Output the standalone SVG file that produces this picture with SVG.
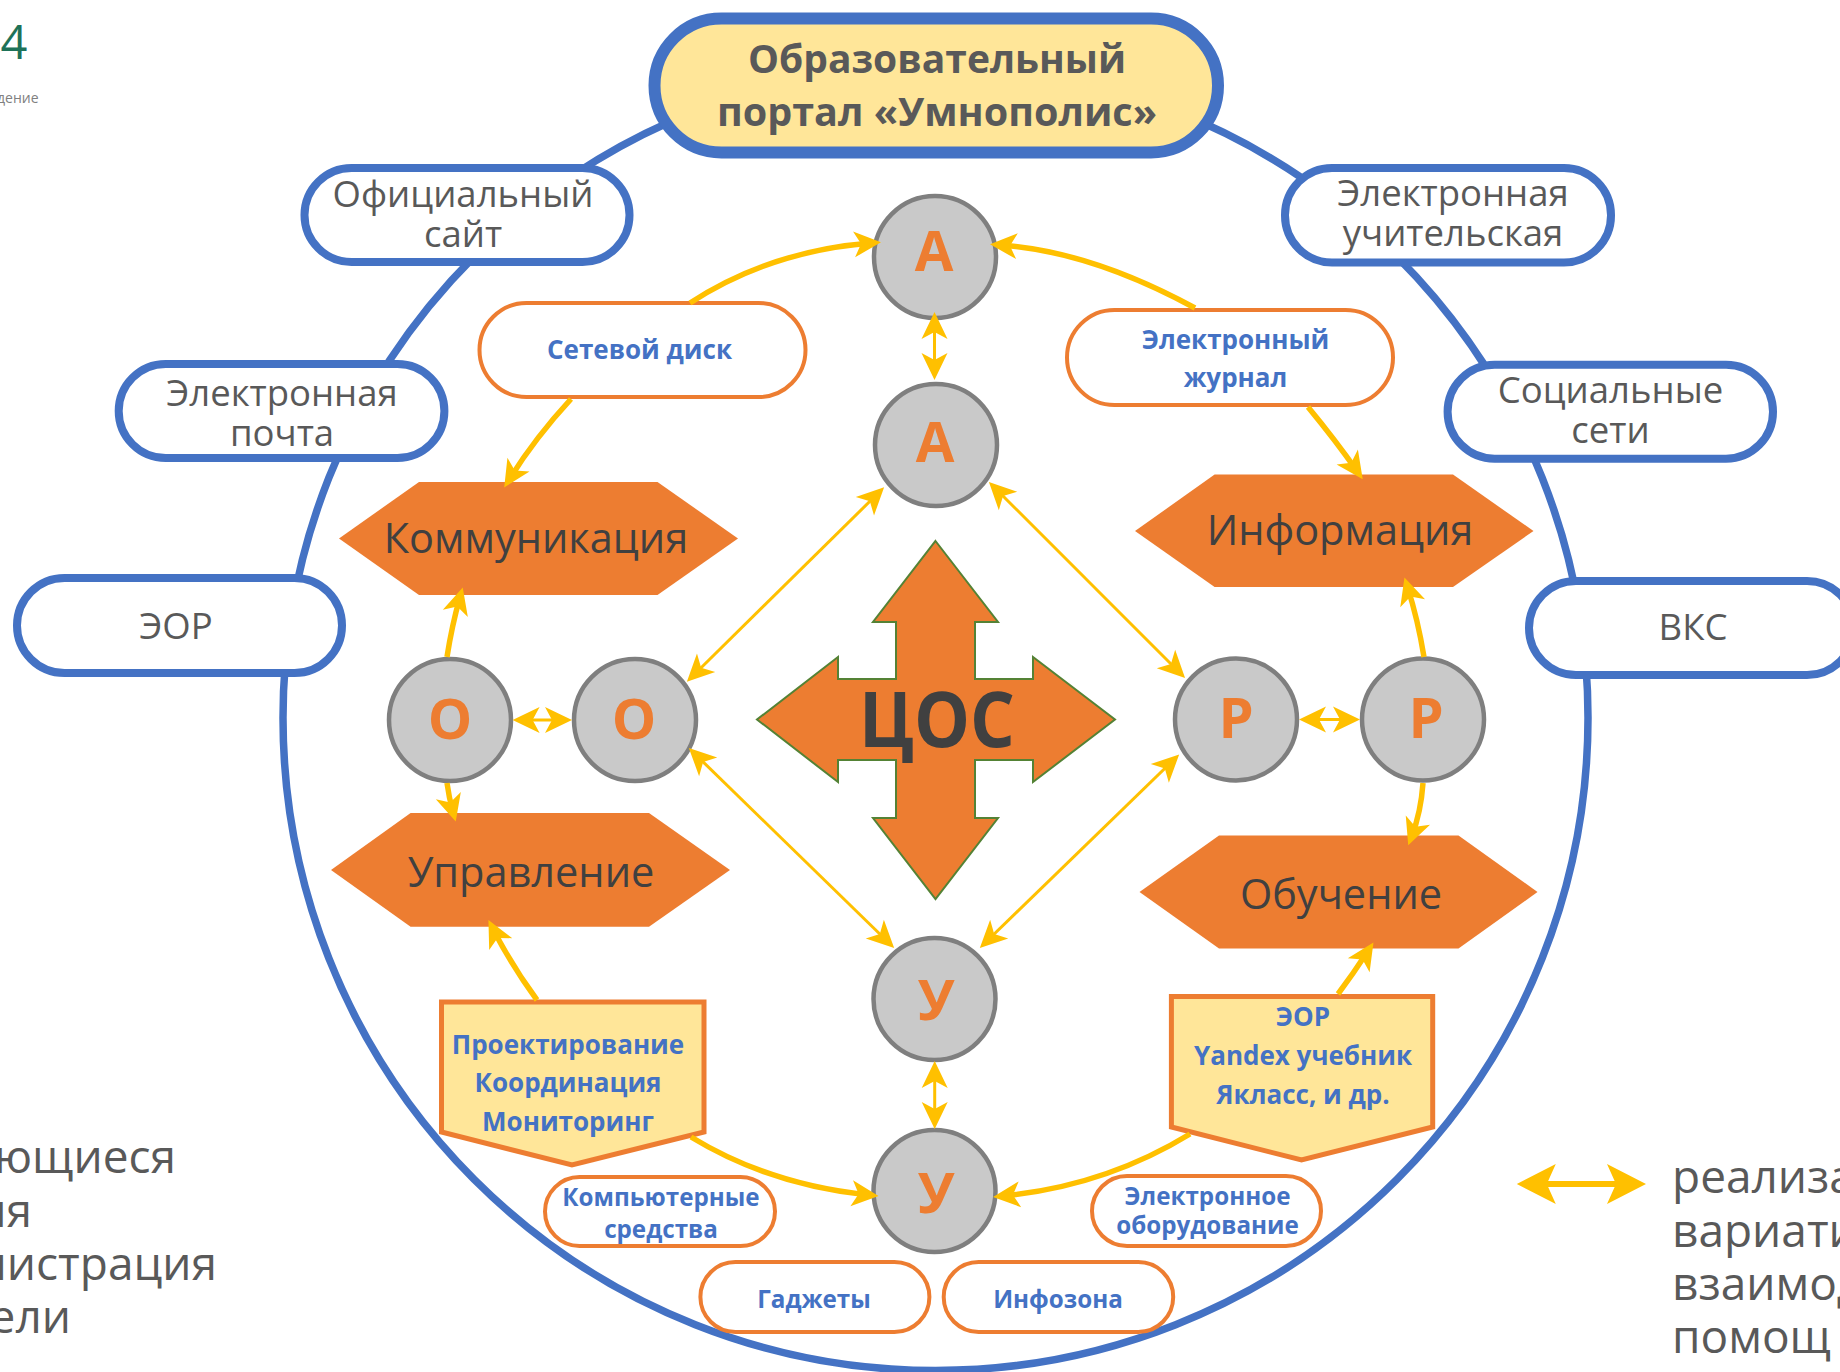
<svg xmlns="http://www.w3.org/2000/svg" width="1840" height="1372" viewBox="0 0 1840 1372">
<style>
text{font-family:"Open Sans","Noto Sans","DejaVu Sans",sans-serif;text-anchor:middle}
.g{fill:#595959}
.h{fill:#404040}
.pill{fill:#fff;stroke:#4472C4;stroke-width:8}
.sub{fill:#fff;stroke:#ED7D31;stroke-width:4}
.hex{fill:#ED7D31}
.pent{fill:#FFE699;stroke:#ED7D31;stroke-width:5}
.circ{fill:#C9C9C9;stroke:#7F7F7F;stroke-width:4.5}
.l{fill:#ED7D31;font-weight:700;font-size:56px}
.b{fill:#4472C4;font-weight:700}
.s1{font-size:26px}
.s2{font-size:24.2px}
.t{font-size:36.5px}
.hx{font-size:41.5px}
.leg{font-size:46px}
.thick{fill:none;stroke:#FFC000;stroke-width:5.5;marker-end:url(#ah)}
.thin{fill:none;stroke:#FFC000;stroke-width:3;marker-start:url(#ah);marker-end:url(#ah)}
.big{fill:none;stroke:#FFC000;stroke-width:6;marker-start:url(#ahb);marker-end:url(#ahb)}
</style>
<defs>
<marker id="ah" markerUnits="userSpaceOnUse" markerWidth="40" markerHeight="34" viewBox="0 0 40 34" refX="18" refY="17" orient="auto-start-reverse"><path d="M28,17 L1,4 L8,17 L1,30Z" fill="#FFC000"/></marker>
<marker id="ahb" markerUnits="userSpaceOnUse" markerWidth="60" markerHeight="50" viewBox="0 0 60 50" refX="30" refY="25" orient="auto-start-reverse"><path d="M45,25 L6,5 L15,25 L6,45Z" fill="#FFC000"/></marker>
</defs>
<rect width="1840" height="1372" fill="#fff"/>
<g id="ring"><circle cx="935.5" cy="718" r="652.5" fill="none" stroke="#4472C4" stroke-width="7.5"/></g>

<g id="corner-mark">
<text x="14" y="59" style="font-size:47px" fill="#1E7258">4</text>
<text x="38.5" y="103" style="font-size:14px;text-anchor:end" fill="#808080">дение</text>
</g>

<g id="portal"><rect x="654.5" y="18.5" width="563.5" height="134" rx="67" fill="#FFE699" stroke="#4472C4" stroke-width="12"/>
<text x="937" y="73" class="g" style="font-size:40px;font-weight:700" textLength="378" lengthAdjust="spacingAndGlyphs">Образовательный</text>
<text x="937" y="126" class="g" style="font-size:40px;font-weight:700" textLength="440" lengthAdjust="spacingAndGlyphs">портал «Умнополис»</text></g>

<g id="site"><rect x="304.5" y="168" width="325" height="94" rx="47" class="pill"/><text x="463" y="207" class="g t">Официальный</text><text x="463" y="247" class="g t">сайт</text></g>
<g id="mail"><rect x="118.7" y="364" width="325.7" height="94" rx="47" class="pill"/><text x="282" y="406" class="g t">Электронная</text><text x="282" y="446" class="g t">почта</text></g>
<g id="eor"><rect x="17" y="578" width="325" height="95" rx="47.5" class="pill"/><text x="176" y="638.5" class="g t">ЭОР</text></g>
<g id="teacher"><rect x="1285" y="168" width="326" height="94.5" rx="47" class="pill"/><text x="1453" y="206" class="g t">Электронная</text><text x="1453" y="246" class="g t">учительская</text></g>
<g id="social"><rect x="1447.6" y="364.7" width="325.4" height="94" rx="47" class="pill"/><text x="1610.5" y="403" class="g t">Социальные</text><text x="1610.5" y="443" class="g t">сети</text></g>
<g id="vks"><rect x="1529" y="581" width="325" height="94" rx="47" class="pill"/><text x="1693" y="640" class="g t">ВКС</text></g>

<g id="disk"><rect x="479.5" y="303" width="326" height="94" rx="47" class="sub"/><text x="639.5" y="358.5" class="b s1">Сетевой диск</text></g>
<g id="journal"><rect x="1067" y="310" width="326" height="95" rx="47.5" class="sub"/><text x="1235.5" y="349" class="b s1">Электронный</text><text x="1235.5" y="387" class="b s1">журнал</text></g>
<g id="computers"><rect x="545" y="1177" width="230" height="69" rx="34.5" class="sub"/><text x="661" y="1206" class="b s2">Компьютерные</text><text x="661" y="1238" class="b s2">средства</text></g>
<g id="gadgets"><rect x="700.4" y="1262" width="229" height="70" rx="35" class="sub"/><text x="814" y="1308" class="b s2">Гаджеты</text></g>
<g id="infozone"><rect x="943.7" y="1262" width="229.5" height="70" rx="35" class="sub"/><text x="1058" y="1308" class="b s2">Инфозона</text></g>
<g id="equipment"><rect x="1092" y="1176" width="229" height="70" rx="35" class="sub"/><text x="1207.5" y="1205" class="b s2">Электронное</text><text x="1207.5" y="1234" class="b s2">оборудование</text></g>

<g id="communication"><polygon points="339,538.5 419,482 657.5,482 738,538.5 657.5,595 419,595" class="hex"/><text x="536" y="553" class="h hx">Коммуникация</text></g>
<g id="management"><polygon points="331,870 410.6,813 649,813 730,870 649,926.7 410.6,926.7" class="hex"/><text x="531" y="887" class="h hx">Управление</text></g>
<g id="information"><polygon points="1135,531 1214.6,474.6 1453,474.6 1533.5,531 1453,587 1214.6,587" class="hex"/><text x="1340" y="545" class="h hx">Информация</text></g>
<g id="learning"><polygon points="1139.5,892 1219,835.5 1458.5,835.5 1537.5,892 1458.5,948.5 1219,948.5" class="hex"/><text x="1341" y="909" class="h hx">Обучение</text></g>

<g id="design"><polygon points="441.5,1002 704,1002 704,1132 572,1165 441.5,1132" class="pent"/><text x="568" y="1054" class="b s1">Проектирование</text><text x="568" y="1092" class="b s1">Координация</text><text x="568" y="1131" class="b s1">Мониторинг</text></g>
<g id="resources"><polygon points="1171.4,996.5 1432.7,996.5 1432.7,1127 1301.5,1160 1171.4,1127" class="pent"/><text x="1303" y="1026" class="b s1">ЭОР</text><text x="1303" y="1065" class="b s1">Yandex учебник</text><text x="1303" y="1104" class="b s1">Якласс, и др.</text></g>

<g id="cos"><polygon points="935.5,541 998,622 975,622 975,679 1033,679 1033,657 1115,719.5 1033,782 1033,760 975,760 975,818 998,818 935.5,899 873,818 896,818 896,760 838,760 838,782 757,719.5 838,657 838,679 896,679 896,622 873,622" fill="#ED7D31" stroke="#548235" stroke-width="2"/><text x="937" y="747" class="h" style="font-size:77px;font-weight:700" textLength="156" lengthAdjust="spacingAndGlyphs">ЦОС</text></g>

<g id="a1"><circle cx="935" cy="257" r="61" class="circ"/><text x="934" y="271" class="l">А</text></g>
<g id="a2"><circle cx="936" cy="445" r="61" class="circ"/><text x="935" y="462" class="l">А</text></g>
<g id="o1"><circle cx="450" cy="720" r="61" class="circ"/><text x="450" y="739" class="l">О</text></g>
<g id="o2"><circle cx="635" cy="720" r="61" class="circ"/><text x="634" y="739" class="l">О</text></g>
<g id="p1"><circle cx="1236" cy="719.5" r="61" class="circ"/><text x="1236" y="738" class="l">Р</text></g>
<g id="p2"><circle cx="1423" cy="719.5" r="61" class="circ"/><text x="1426" y="738" class="l">Р</text></g>
<g id="u1"><circle cx="934.5" cy="999" r="61" class="circ"/><text x="936" y="1020" class="l">У</text></g>
<g id="u2"><circle cx="934.5" cy="1191" r="61" class="circ"/><text x="936" y="1213" class="l">У</text></g>

<g id="connectors">
<path class="thick" d="M690,303 Q770,251 871,243"/>
<path class="thick" d="M1195,308 Q1090,251 1000,245"/>
<path class="thick" d="M571,399 Q535,438 509.5,479"/>
<path class="thick" d="M1308,407 Q1336,441 1357,471"/>
<path class="thick" d="M1424,657 Q1418,620 1407.5,587"/>
<path class="thick" d="M447,657 Q452,625 460,597"/>
<path class="thick" d="M447,783 Q449,798 453,812"/>
<path class="thick" d="M1423,783 Q1421,812 1411.8,836"/>
<path class="thick" d="M537,1000 Q512,966 493,929"/>
<path class="thick" d="M1338,994 Q1353,974 1368,951"/>
<path class="thick" d="M691,1137 Q770,1185 868.6,1195"/>
<path class="thick" d="M1190,1134 Q1105,1186 1003,1196"/>
<path class="thin" d="M934.5,322 L934.5,370"/>
<path class="thin" d="M934.7,1071 L934.7,1119"/>
<path class="thin" d="M522.6,720 L562,720"/>
<path class="thin" d="M1309,719.5 L1350,719.5"/>
<path class="thin" d="M694,674.7 L877,494.3"/>
<path class="thin" d="M996,489 L1178,671"/>
<path class="thin" d="M696,755 L887,941"/>
<path class="thin" d="M1172,761.5 L987,941"/>
</g>

<g id="legend-right">
<path class="big" d="M1531.8,1184 L1631,1184"/>
<text x="1672" y="1193" class="g leg" style="text-anchor:start">реализа</text>
<text x="1672" y="1247" class="g leg" style="text-anchor:start">вариати</text>
<text x="1672" y="1300" class="g leg" style="text-anchor:start">взаимод</text>
<text x="1672" y="1353" class="g leg" style="text-anchor:start">помощ</text>
</g>
<g id="legend-left">
<text x="176" y="1173" class="g leg" style="text-anchor:end">ющиеся</text>
<text x="32" y="1227" class="g leg" style="text-anchor:end">ля</text>
<text x="217" y="1280" class="g leg" style="text-anchor:end">нистрация</text>
<text x="71" y="1333" class="g leg" style="text-anchor:end">ели</text>
</g>
</svg>
